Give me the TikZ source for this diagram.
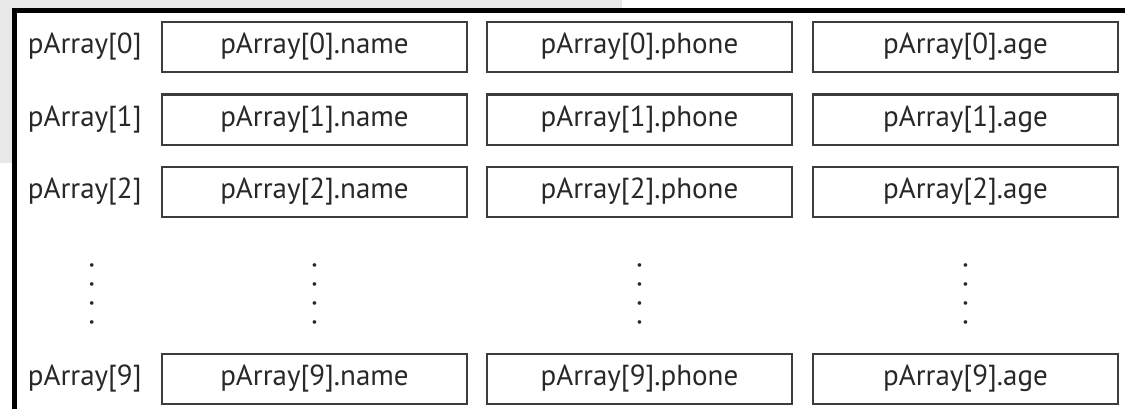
\documentclass[tikz,border=0pt]{standalone}
\usepackage{fontspec}
\setmainfont{PT Sans}
\usetikzlibrary{positioning, calc}
\definecolor{PageGray}{RGB}{232,232,232}
\definecolor{BoxLine} {RGB}{60,60,60}
\definecolor{TextInk} {RGB}{40,40,40}
\tikzset{
  % one member of a struct element
  field/.style={
    rectangle, draw=BoxLine, fill=white, line width=1pt,
    text=TextInk, font=\fontsize{14.5}{16}\selectfont,
    minimum width=152.5pt, minimum height=25pt, inner sep=0pt
  },
  % element name on the left of each row
  idx/.style={
    inner sep=0pt, text=TextInk, font=\fontsize{14.5}{16}\selectfont
  },
  % column of dots for the skipped rows
  vdots/.style={
    align=center, inner sep=0pt, text=TextInk,
    font=\fontsize{6.5}{9.5}\selectfont
  },
  frame/.style={draw=black, fill=white, line width=2.5pt}
}

\begin{document}
\begin{tikzpicture}[node distance=10.25pt and 9pt]

  \useasboundingbox (0,0) rectangle (562.5pt,204pt);
  \fill[PageGray] (0,122.5pt) rectangle (311pt,204pt);
  \draw[frame] (7pt,-5pt) -- (7pt,198.75pt) -- (570pt,198.75pt) -- (570pt,-5pt) -- cycle;

  %% ── pArray[0] ──────────────────────────────────────────────
  \node[field] (n0) at (157.25pt,180.5pt) {pArray[0].name};
  \node[field, right=of n0]      (p0) {pArray[0].phone};
  \node[field, right=9.5pt of p0] (a0) {pArray[0].age};
  \node[idx, left=9.5pt of n0]   (i0) {pArray[0]};

  %% ── pArray[1] ──────────────────────────────────────────────
  \node[field, below=of n0]      (n1) {pArray[1].name};
  \node[field, below=of p0]      (p1) {pArray[1].phone};
  \node[field, below=of a0]      (a1) {pArray[1].age};
  \node[idx, left=9.5pt of n1]   (i1) {pArray[1]};

  %% ── pArray[2] ──────────────────────────────────────────────
  \node[field, below=of n1]      (n2) {pArray[2].name};
  \node[field, below=of p1]      (p2) {pArray[2].phone};
  \node[field, below=of a1]      (a2) {pArray[2].age};
  \node[idx, left=9.5pt of n2]   (i2) {pArray[2]};

  %% ── pArray[9] ──────────────────────────────────────────────
  \node[field, below=67.5pt of n2] (n9) {pArray[9].name};
  \node[field, below=67.5pt of p2] (p9) {pArray[9].phone};
  \node[field, below=67.5pt of a2] (a9) {pArray[9].age};
  \node[idx, left=9.5pt of n9]     (i9) {pArray[9]};

  %% ── skipped rows ───────────────────────────────────────────
  \node[vdots] (di) at ($($(i2)!0.5!(i9)$)+(3.5pt,-5pt)$) {•\\•\\•\\•};
  \node[vdots] (dn) at ($($(n2)!0.5!(n9)$)+(0,-5pt)$)     {•\\•\\•\\•};
  \node[vdots] (dp) at ($($(p2)!0.5!(p9)$)+(0,-5pt)$)     {•\\•\\•\\•};
  \node[vdots] (da) at ($($(a2)!0.5!(a9)$)+(0,-5pt)$)     {•\\•\\•\\•};

\end{tikzpicture}
\end{document}
